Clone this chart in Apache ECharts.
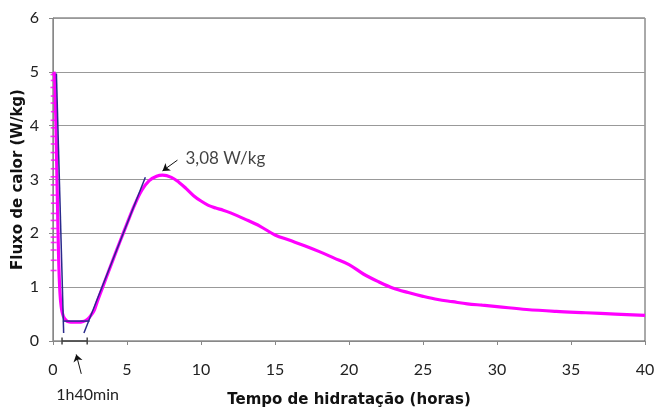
<!DOCTYPE html>
<html>
<head>
<meta charset="utf-8">
<script src="https://cdn.jsdelivr.net/npm/echarts@6/dist/echarts.min.js"></script>
<style>
  html, body { margin: 0; padding: 0; background: #fff; }
  #chart { width: 655px; height: 409px; }
</style>
</head>
<body>
<div id="chart"></div>
<script>
// Heat flow of cement paste during hydration (W/kg vs hours)
const hours = [0.05, 0.1, 0.15, 0.2, 0.25, 0.3, 0.35, 0.4, 0.45, 0.5, 0.55, 0.6, 0.7, 0.8, 0.9, 1.0,
  1.2, 1.4, 1.6, 1.8, 2.0, 2.2, 2.4, 2.6, 2.8, 3.0, 3.3, 3.6, 4.0, 4.5, 5.0, 5.5, 6.0, 6.5, 7.0, 7.4,
  8.0, 8.5, 9.0, 9.5, 10.0, 10.5, 11.0, 11.5, 12, 13, 14, 15, 16, 17, 18, 19, 20, 21, 22, 23, 24, 25,
  26, 27, 28, 29, 30, 32, 34, 36, 38, 40];
const heatFlow = [5.0, 4.95, 4.6, 4.0, 3.3, 2.6, 1.9, 1.35, 1.0, 0.78, 0.65, 0.56, 0.46, 0.41, 0.38, 0.36,
  0.35, 0.35, 0.35, 0.35, 0.36, 0.38, 0.42, 0.49, 0.58, 0.74, 0.96, 1.18, 1.47, 1.83, 2.18, 2.52, 2.8, 2.98, 3.06, 3.08,
  3.04, 2.95, 2.83, 2.7, 2.6, 2.52, 2.47, 2.43, 2.38, 2.26, 2.13, 1.97, 1.87, 1.77, 1.66, 1.54, 1.42, 1.24, 1.1, 0.98, 0.9, 0.83,
  0.77, 0.73, 0.69, 0.665, 0.64, 0.585, 0.55, 0.525, 0.5, 0.475];

// First readings right after mixing
const earlyHours = [0.04, 0.05, 0.03, 0.05, 0.04, 0.06, 0.04, 0.05, 0.03, 0.05, 0.04, 0.06, 0.05,
  0.04, 0.05, 0.04, 0.06, 0.05, 0.04, 0.05, 0.04, 0.05, 0.04, 0.05, 0.04];
const earlyFlow = [4.95, 4.84, 4.71, 4.55, 4.42, 4.26, 4.1, 3.96, 3.8, 3.66, 3.5, 3.36, 3.2,
  3.05, 2.9, 2.71, 2.56, 2.37, 2.24, 2.09, 1.93, 1.83, 1.69, 1.5, 1.31];

// Construction lines for the dormant period
const tangentDrop = [[0.23, 4.97], [0.72, 0.15]];
const tangentFlat = [[0.67, 0.37], [2.47, 0.37]];
const tangentRise = [[2.09, 0.15], [6.24, 3.04]];
const dormantBracket = [[0.61, 0], [2.31, 0]];
const dormantArrow = [[1.91, -0.61], [1.57, -0.25]];
const dormantLabel = '1h40min';

const peakTime = 7.4;
const peakValue = 3.08;
const peakArrow = [[8.41, 3.36], [7.4, 3.16]];

const xTicks = { min: 0, max: 40, step: 5 };
const yTicks = { min: 0, max: 6, step: 1 };

const pink = '#ff00ff';
const navy = '#2a2a8c';
const tickFont = 'Lato, "Open Sans", sans-serif';
const titleFont = '"DejaVu Sans", Verdana, sans-serif';

const chart = echarts.init(document.getElementById('chart'), null, { renderer: 'canvas' });

function segment(data, color, width) {
  return {
    type: 'line', data: data, symbol: 'none', silent: true, clip: false, z: 5,
    lineStyle: { color: color, width: width }
  };
}

function arrow(coords) {
  return {
    type: 'lines', coordinateSystem: 'cartesian2d', silent: true, clip: false, z: 6,
    symbol: ['none', 'arrow'], symbolSize: 7,
    lineStyle: { color: '#111', width: 1, opacity: 1 },
    data: [{ coords: coords }]
  };
}

chart.setOption({
  animation: false,
  backgroundColor: '#fff',
  grid: {
    left: 53, right: 10, top: 18, bottom: 68,
    outerBoundsMode: 'none', containLabel: false,
    show: true, borderColor: '#555', borderWidth: 1, backgroundColor: 'transparent'
  },
  xAxis: {
    type: 'value', min: xTicks.min, max: xTicks.max, interval: xTicks.step,
    name: 'Tempo de hidratação (horas)', nameLocation: 'middle', nameGap: 52,
    nameMoveOverlap: false,
    nameTextStyle: { fontFamily: titleFont, fontWeight: 'bold', fontSize: 15, color: '#111' },
    axisLine: { lineStyle: { color: '#888', width: 1 } },
    axisTick: { show: true, length: 4, lineStyle: { color: '#888' } },
    axisLabel: { fontFamily: tickFont, fontSize: 16, color: '#222', margin: 21 },
    splitLine: { show: false }
  },
  yAxis: {
    type: 'value', min: yTicks.min, max: yTicks.max, interval: yTicks.step,
    name: 'Fluxo de calor (W/kg)', nameLocation: 'middle', nameGap: 27, nameRotate: 90,
    nameMoveOverlap: false,
    nameTextStyle: { fontFamily: titleFont, fontWeight: 'bold', fontSize: 15, color: '#111' },
    axisLine: { show: true, lineStyle: { color: '#888', width: 1 } },
    axisTick: { show: true, length: 4, lineStyle: { color: '#888' } },
    axisLabel: { fontFamily: tickFont, fontSize: 16, color: '#222', margin: 14 },
    splitLine: { show: true, lineStyle: { color: '#999', width: 1 } }
  },
  series: [
    {
      type: 'line', name: 'Fluxo', data: hours.map((h, i) => [h, heatFlow[i]]),
      symbol: 'none', smooth: 0.35, z: 3,
      lineStyle: { color: pink, width: 3.2 }
    },
    {
      type: 'scatter', data: earlyHours.map((h, i) => [h, earlyFlow[i]]),
      symbol: 'rect', symbolSize: [6, 1.6], z: 3,
      itemStyle: { color: pink }
    },
    segment(tangentDrop, navy, 1.5),
    segment(tangentFlat, navy, 1.5),
    segment(tangentRise, navy, 1.5),
    {
      type: 'line', data: dormantBracket, clip: false, z: 6, silent: true,
      symbol: 'rect', symbolSize: [1.5, 7], itemStyle: { color: '#444' },
      lineStyle: { color: '#444', width: 1.5 }
    },
    arrow(dormantArrow),
    arrow(peakArrow),
    {
      // value caption at the tail of the peak arrow
      type: 'scatter', silent: true, z: 6, symbolSize: 0,
      data: [peakArrow[0]],
      label: {
        show: true, position: 'right', distance: 8, offset: [0, -2],
        formatter: () => peakValue.toFixed(2).replace('.', ',') + ' W/kg',
        fontFamily: tickFont, fontSize: 17, color: '#111'
      }
    }
  ]
});

// Dormant-period label placed under its arrow
const labelPos = chart.convertToPixel({ gridIndex: 0 }, dormantArrow[0]);
chart.setOption({
  graphic: [{
    type: 'text', left: labelPos[0] - 25, top: labelPos[1] + 13,
    style: { text: dormantLabel, fontFamily: tickFont, fontSize: 16, fill: '#222' }
  }]
});
</script>
</body>
</html>
